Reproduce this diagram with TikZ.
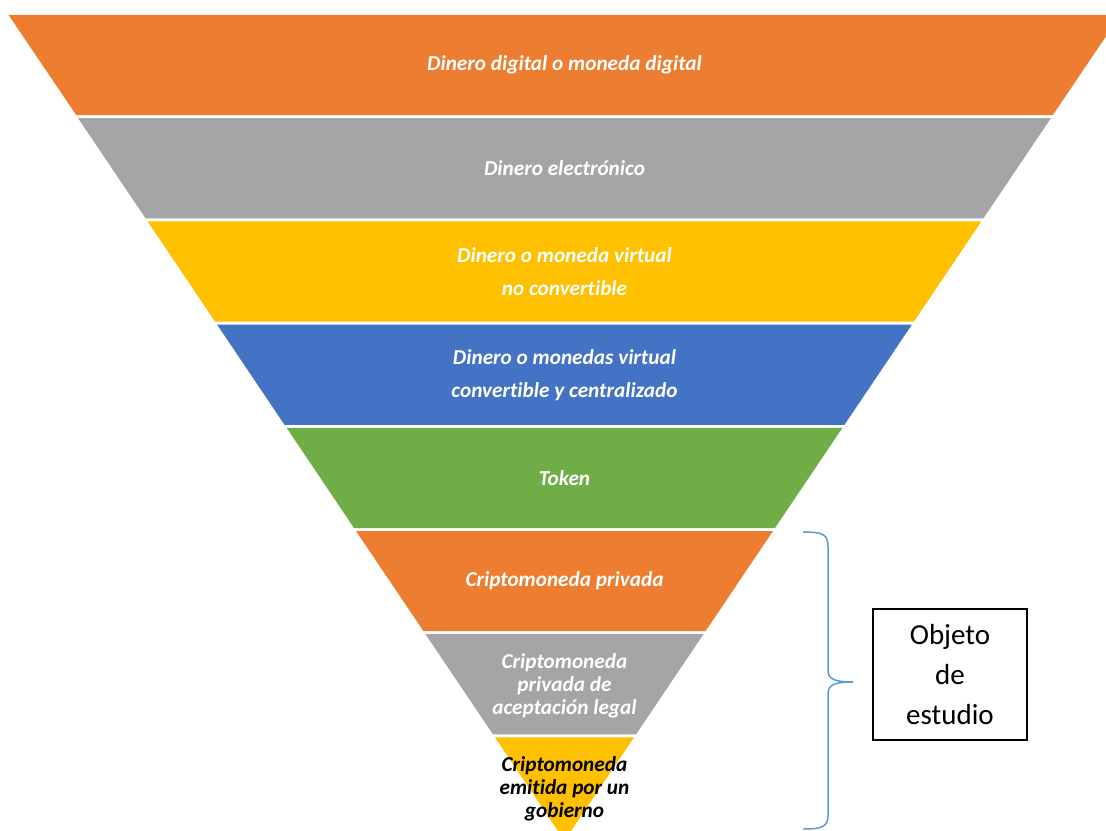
\documentclass[tikz,border=0pt]{standalone}
\usepackage{fontspec}
\setmainfont{Carlito}[Ligatures=NoCommon]
\usepackage{tikz}
\usetikzlibrary{positioning, calc}
\definecolor{bandorange}{HTML}{ED7D31}
\definecolor{bandgray}{HTML}{A5A5A5}
\definecolor{bandyellow}{HTML}{FFC000}
\definecolor{bandblue}{HTML}{4472C4}
\definecolor{bandgreen}{HTML}{70AD47}
\definecolor{bracecolor}{HTML}{5B9BD5}
\tikzset{
    bandtext/.style={text=white, font=\fontsize{12.1}{18.8}\selectfont\bfseries\itshape, align=center, inner sep=0pt},
    tiptext/.style={bandtext, font=\fontsize{12.1}{13.1}\selectfont\bfseries\itshape},
    studybox/.style={draw=black, line width=0.6pt, minimum width=3.08cm, minimum height=2.62cm, align=center, font=\fontsize{16.5}{22.8}\selectfont},
    studybrace/.style={draw=bracecolor, line width=0.85pt},
}

\begin{document}
\begin{tikzpicture}[x=0.02cm, y=-0.02cm]
    \useasboundingbox (0,0) rectangle (1106,831);
    \clip (0,0) rectangle (1106,831);

    % bands of the funnel
    \fill[bandorange] (8.6,15) -- (1120.4,15) -- (1052.7,115.2) -- (76.3,115.2) -- cycle;
    \fill[bandgray] (78.1,118.2) -- (1050.9,118.2) -- (983.4,218.4) -- (145.6,218.4) -- cycle;
    \fill[bandyellow] (147.6,221.4) -- (981.4,221.4) -- (913.9,321.6) -- (215.1,321.6) -- cycle;
    \fill[bandblue] (217.1,324.6) -- (911.9,324.6) -- (844.5,424.8) -- (284.5,424.8) -- cycle;
    \fill[bandgreen] (286.6,427.8) -- (842.4,427.8) -- (775,528) -- (354,528) -- cycle;
    \fill[bandorange] (356,531) -- (773,531) -- (705.5,631.2) -- (423.5,631.2) -- cycle;
    \fill[bandgray] (425.5,634.2) -- (703.5,634.2) -- (636,734.4) -- (493,734.4) -- cycle;
    \fill[bandyellow] (495,737.4) -- (634,737.4) -- (564.5,840.6) -- cycle;

    % labels
    \node[bandtext] (digital) at (564.5,65) {Dinero digital o moneda digital};
    \node[bandtext] (electronico) at (564.5,168) {Dinero electrónico};
    \node[bandtext] (noconv) at (564.5,271.5) {Dinero o moneda virtual\\no convertible};
    \node[bandtext] (conv) at (564.5,375) {Dinero o monedas virtual\\convertible y centralizado};
    \node[bandtext] (token) at (564.5,478) {Token};
    \node[bandtext] (privada) at (564.5,581) {Criptomoneda privada};
    \node[tiptext] (legal) at (564.5,685.5) {Criptomoneda\\privada de\\aceptación legal};
    \node[tiptext, text=black] (gobierno) at (564.5,789) {Criptomoneda\\emitida por un\\gobierno};

    % object of study
    \node[studybox] (objeto) at (950,674.5) {Objeto\\de\\estudio};
    \coordinate (bracetop) at (803,532);
    \coordinate (bracetip) at (853,682);
    \coordinate (bracebot) at (803,829);
    \draw[studybrace] (bracetop) .. controls (822,532) and (828,534) .. (828,546)
        -- (828,670) .. controls (828,679) and (834,682) .. (bracetip);
    \draw[studybrace] (bracebot) .. controls (822,829) and (828,827) .. (828,815)
        -- (828,694) .. controls (828,685) and (834,682) .. (bracetip);
\end{tikzpicture}
\end{document}
